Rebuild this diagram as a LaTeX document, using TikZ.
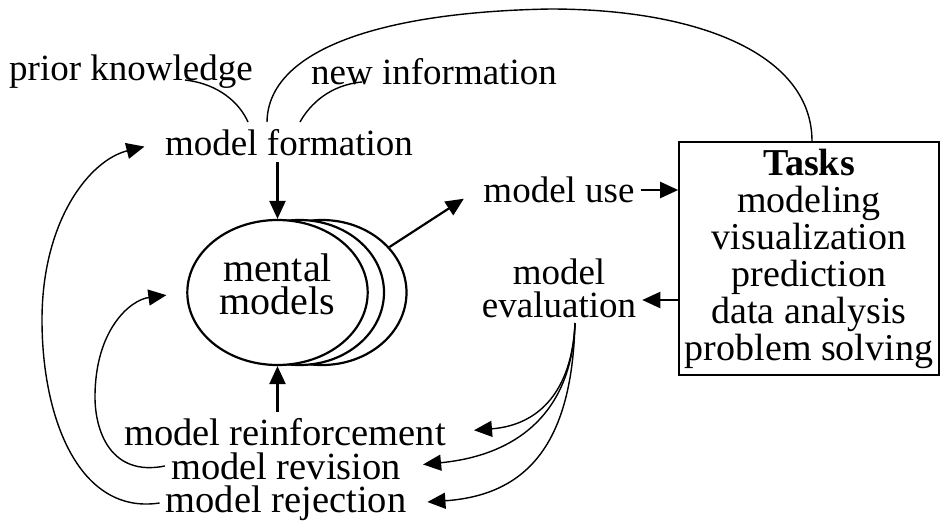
\documentclass[tikz,border=0pt]{standalone}
\usepackage{fontspec}
\setmainfont{Liberation Serif}
\usetikzlibrary{arrows.meta,shapes.geometric}

\begin{document}
\begin{tikzpicture}[x=1pt, y=-1pt,
    every node/.style={align=center, inner sep=6pt, font=\fontsize{37}{33}\selectfont},
    big/.style={font=\fontsize{38.5}{34}\selectfont},
    thinline/.style={line width=1.4pt},
    thickline/.style={line width=2.2pt},
    arr/.style={-{Triangle[length=18pt,width=16pt]}},
    mm/.style={draw, thickline, fill=white, ellipse, minimum width=169pt, minimum height=145pt}]

\useasboundingbox (0,0) rectangle (943,523);

% nodes ---
\node (prior) at (131,72) {prior knowledge};
\node (newinfo) at (434,72) {new information};
\node (formation) at (289,143) {model formation};

\node [mm] (mm3) at (322,292.5) {};
\node [mm] (mm2) at (299.5,292.5) {};
\node [mm, font=\fontsize{40}{33}\selectfont] (mental) at (277.5,292.5) {mental\\models\\[-17pt]};

\node (use) at (559,190) {model use};
\node (eval) at (559,288) {model\\evaluation};

\node [draw, line width=1.6pt, minimum width=256pt, minimum height=233pt,
    font=\fontsize{38}{37}\selectfont] (tasks) at (809,258.5)
    {\textbf{Tasks}\\modeling\\visualization\\prediction\\data analysis\\problem solving};

\node [big] (reinf) at (285,432) {model reinforcement};
\node [big] (revision) at (286,466) {model revision};
\node [big] (rejection) at (286,503) {model rejection};

% free ends of the curves ---
\coordinate (pkfoot) at (185,80);
\coordinate (nifoot) at (362,82);
\coordinate (pkin) at (248,122);
\coordinate (niin) at (300,122);
\coordinate (loopin) at (267,122);
\coordinate (looptop) at (550,9);
\coordinate (evalfoot) at (575,323);

% inputs to model formation
\draw [thinline] (pkfoot) .. controls (220,84) and (240,104) .. (pkin);
\draw [thinline] (nifoot) .. controls (330,85) and (310,104) .. (niin);
\draw [thinline] (loopin) .. controls (268,50) and (380,12) .. (looptop)
    .. controls (700,9) and (812,55) .. (tasks.north -| 812,0);

% arrows round the mental models
\draw [thickline, arr] (formation.south -| mental.north) -- (mental.north);
\draw [thickline, arr, shorten >=16pt] (mm3.34) -- (use.west);
\draw [thickline, arr] (use.east) -- (use.east -| tasks.west);
\draw [thickline, arr] (tasks.west |- 0,300) -- (eval.east |- 0,300);
\draw [thickline, arr] (reinf.north -| mental.south) -- (mental.south);

% evaluation outcomes
\draw [thinline, arr, shorten >=22pt] (evalfoot) .. controls (572,390) and (540,425) .. (reinf.east);
\draw [thinline, arr, shorten >=16pt] (evalfoot) .. controls (572,410) and (520,455) .. (revision.east);
\draw [thinline, arr, shorten >=15pt] (evalfoot) .. controls (572,440) and (530,495) .. (rejection.east);

% back to the model
\draw [thinline, arr, shorten >=20pt] (revision.west) .. controls (110,477) and (95,430) .. (95,397)
    .. controls (95,330) and (130,300) .. (mental.west);
\draw [thinline, arr, shorten >=15pt] (rejection.west) .. controls (80,515) and (42,420) .. (42,320)
    .. controls (42,220) and (90,160) .. (formation.west);

\end{tikzpicture}
\end{document}
